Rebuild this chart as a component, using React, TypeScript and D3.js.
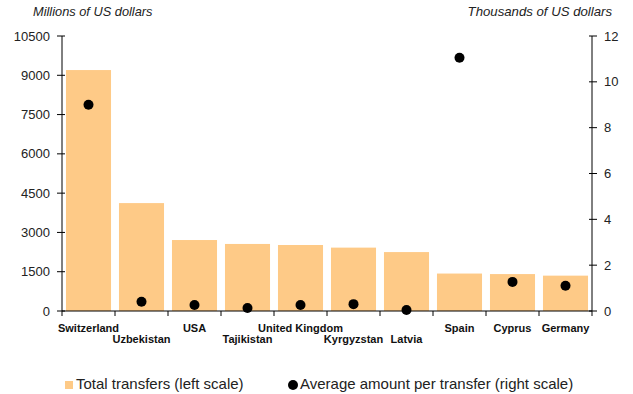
import React from "react";
import * as d3 from "d3";

const countries = [
  "Switzerland",
  "Uzbekistan",
  "USA",
  "Tajikistan",
  "United Kingdom",
  "Kyrgyzstan",
  "Latvia",
  "Spain",
  "Cyprus",
  "Germany",
];
// Total transfers, millions of US dollars (left scale)
const totalTransfers = [9200, 4120, 2710, 2560, 2520, 2420, 2250, 1430, 1410, 1350];
// Average amount per transfer, thousands of US dollars (right scale)
const avgPerTransfer = [9.0, 0.4, 0.26, 0.13, 0.26, 0.3, 0.04, 11.05, 1.27, 1.1];
const leftTicks = [0, 1500, 3000, 4500, 6000, 7500, 9000, 10500];
const rightTicks = [0, 2, 4, 6, 8, 10, 12];
// label row per category (0 = upper, 1 = lower) to keep long names apart
const labelRow = [0, 1, 0, 1, 0, 1, 1, 0, 0, 0];

const W = 633;
const H = 394;
const margin = { left: 62, right: 41, top: 36, bottom: 83 };
const BAR = "#FECA87";
const FONT = "Arial, 'Liberation Sans', sans-serif";

export default function App() {
  const x0 = margin.left;
  const x1 = W - margin.right;
  const y0 = H - margin.bottom;
  const y1 = margin.top;

  const x = d3.scaleBand<string>().domain(countries).range([x0, x1]).paddingInner(0.15).paddingOuter(0.075);
  const yL = d3.scaleLinear().domain([0, 10500]).range([y0, y1]);
  const yR = d3.scaleLinear().domain([0, 12]).range([y0, y1]);
  const step = x.step();

  return (
    <svg width={W} height={H} style={{ position: "absolute", left: 0, top: 0 }} fontFamily={FONT}>
      <rect width={W} height={H} fill="#fff" />
      <text x={33} y={16} fontSize={12.8} fontStyle="italic" fill="#222">Millions of US dollars</text>
      <text x={612} y={16} fontSize={13.2} fontStyle="italic" fill="#222" textAnchor="end">Thousands of US dollars</text>

      {countries.map((c, i) => (
        <rect key={c} x={x(c)} y={yL(totalTransfers[i])} width={x.bandwidth()} height={y0 - yL(totalTransfers[i])} fill={BAR} />
      ))}

      {/* left axis */}
      <line x1={x0} x2={x0} y1={y1} y2={y0} stroke="#000" />
      {leftTicks.map((t) => (
        <g key={t}>
          <line x1={x0 - 5} x2={x0 + 3} y1={yL(t)} y2={yL(t)} stroke="#000" />
          <text x={x0 - 12} y={yL(t)} dy="0.35em" fontSize={13} textAnchor="end" fill="#222">{t}</text>
        </g>
      ))}

      {/* right axis */}
      <line x1={x1} x2={x1} y1={y1} y2={y0} stroke="#000" />
      {rightTicks.map((t) => (
        <g key={t}>
          <line x1={x1 - 3} x2={x1 + 5} y1={yR(t)} y2={yR(t)} stroke="#000" />
          <text x={x1 + 12} y={yR(t)} dy="0.35em" fontSize={13} fill="#222">{t}</text>
        </g>
      ))}

      {/* category axis */}
      <line x1={x0} x2={x1} y1={y0} y2={y0} stroke="#000" />
      {d3.range(countries.length + 1).map((i) => (
        <line key={i} x1={x0 + i * step} x2={x0 + i * step} y1={y0} y2={y0 + 5} stroke="#000" />
      ))}
      {countries.map((c, i) => (
        <text key={c} x={(x(c) as number) + x.bandwidth() / 2} y={y0 + 21 + labelRow[i] * 11} fontSize={11} fontWeight="bold" textAnchor="middle" fill="#111">{c}</text>
      ))}

      {countries.map((c, i) => (
        <circle key={c} cx={(x(c) as number) + x.bandwidth() / 2} cy={yR(avgPerTransfer[i])} r={5} fill="#000" />
      ))}

      {/* legend */}
      <rect x={65} y={381} width={8} height={8} fill={BAR} />
      <text x={76} y={389} fontSize={15} fill="#222">Total transfers (left scale)</text>
      <circle cx={293} cy={385} r={5} fill="#000" />
      <text x={300} y={389} fontSize={15} fill="#222">Average amount per transfer (right scale)</text>
    </svg>
  );
}
